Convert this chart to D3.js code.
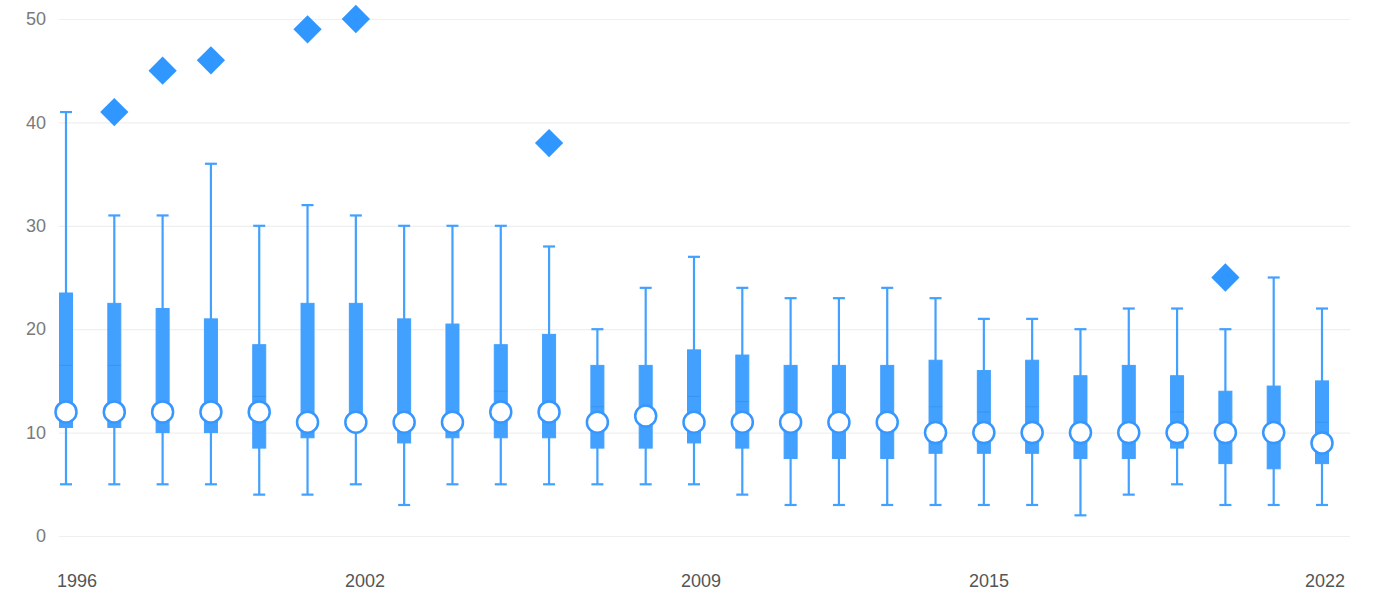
<!DOCTYPE html>
<html>
<head>
<meta charset="utf-8">
<script src="https://cdn.jsdelivr.net/npm/d3@7"></script>
<style>
  body { margin: 0; background: #fff; }
  svg { display: block; font-family: "Liberation Sans", Arial, sans-serif; }
</style>
</head>
<body>
<svg id="chart"></svg>
<script>
// data
const years   = [1996,1997,1998,1999,2000,2001,2002,2003,2004,2005,2006,2007,2008,2009,2010,2011,2012,2013,2014,2015,2016,2017,2018,2019,2020,2021,2022];
const lowW    = [5,5,5,5,4,4,5,3,5,5,5,5,5,5,4,3,3,3,3,3,3,2,4,5,3,3,3];
const q1      = [10.5,10.5,10,10,8.5,9.5,10.5,9,9.5,9.5,9.5,8.5,8.5,9,8.5,7.5,7.5,7.5,8,8,8,7.5,7.5,8.5,7,6.5,7];
const median  = [16.5,16.5,12,12,13.5,11,11,11,11,14,12,12.5,11.5,13.5,13,11,11,11,12.5,12,12.5,10,10,12,10,10,11];
const q3      = [23.5,22.5,22,21,18.5,22.5,22.5,21,20.5,18.5,19.5,16.5,16.5,18,17.5,16.5,16.5,16.5,17,16,17,15.5,16.5,15.5,14,14.5,15];
const highW   = [41,31,31,36,30,32,31,30,30,30,28,20,24,27,24,23,23,24,23,21,21,20,22,22,20,25,22];
const mean    = [12,12,12,12,12,11,11,11,11,12,12,11,11.6,11,11,11,11,11,10,10,10,10,10,10,10,10,9];
const outYears  = [1997,1998,1999,2001,2002,2006,2020];
const outValues = [41,45,46,49,50,38,25];
const yTicks = [0,10,20,30,40,50];
const xLabels = [1996,2002,2009,2015,2022];

const width = 1375, height = 597;
const svg = d3.select('#chart').attr('width', width).attr('height', height);

const x = d3.scalePoint().domain(years).range([66, 1322]);
const y = d3.scaleLinear().domain([0, 50]).range([536, 19]);
// year labels sit on a slightly different time-like scale
const xl = d3.scaleLinear().domain([1996, 2022]).range([77, 1325]);

const blue = '#42a0ff';

// grid
const yAxis = d3.axisLeft(y).tickValues(yTicks).tickSize(-(1350 - 59)).tickPadding(13);
const gy = svg.append('g').attr('transform', 'translate(59,0)').call(yAxis);
gy.select('.domain').remove();
gy.selectAll('.tick line').attr('stroke', '#efefef').attr('stroke-width', 1.2);
gy.selectAll('.tick text').attr('fill', '#7a7a7a').style('font-size', '18px');

svg.append('g').selectAll('text')
  .data(xLabels)
  .join('text')
  .attr('x', d => xl(d))
  .attr('y', 587)
  .attr('text-anchor', 'middle')
  .attr('fill', '#555')
  .style('font-size', '18px')
  .text(d => d);

const rows = years.map((yr, i) => ({ yr, lo: lowW[i], q1: q1[i], med: median[i], q3: q3[i], hi: highW[i], mean: mean[i] }));

const g = svg.append('g');
const bw = 13, cap = 12;

// whiskers
g.selectAll('.whisker')
  .data(rows)
  .join('line')
  .attr('x1', d => x(d.yr)).attr('x2', d => x(d.yr))
  .attr('y1', d => y(d.lo)).attr('y2', d => y(d.hi))
  .attr('stroke', blue).attr('stroke-width', 2.2);

g.selectAll('.capHi')
  .data(rows)
  .join('line')
  .attr('x1', d => x(d.yr) - cap / 2).attr('x2', d => x(d.yr) + cap / 2)
  .attr('y1', d => y(d.hi)).attr('y2', d => y(d.hi))
  .attr('stroke', blue).attr('stroke-width', 2.2);

g.selectAll('.capLo')
  .data(rows)
  .join('line')
  .attr('x1', d => x(d.yr) - cap / 2).attr('x2', d => x(d.yr) + cap / 2)
  .attr('y1', d => y(d.lo)).attr('y2', d => y(d.lo))
  .attr('stroke', blue).attr('stroke-width', 2.2);

// boxes
g.selectAll('.box')
  .data(rows)
  .join('rect')
  .attr('x', d => x(d.yr) - bw / 2)
  .attr('width', bw)
  .attr('y', d => y(d.q3))
  .attr('height', d => y(d.q1) - y(d.q3))
  .attr('fill', blue)
  .attr('stroke', blue).attr('stroke-width', 1);

// median
g.selectAll('.median')
  .data(rows)
  .join('line')
  .attr('x1', d => x(d.yr) - bw / 2).attr('x2', d => x(d.yr) + bw / 2)
  .attr('y1', d => y(d.med)).attr('y2', d => y(d.med))
  .attr('stroke', '#3894ee').attr('stroke-width', 1);

// mean
g.selectAll('.mean')
  .data(rows)
  .join('circle')
  .attr('cx', d => x(d.yr))
  .attr('cy', d => y(d.mean))
  .attr('r', 10.5)
  .attr('fill', '#fff')
  .attr('stroke', '#3797ff').attr('stroke-width', 2.5);

// outliers
const diamond = d3.symbol().type(d3.symbolSquare).size(400);
g.selectAll('.outlier')
  .data(outYears.map((yr, i) => ({ yr, v: outValues[i] })))
  .join('path')
  .attr('d', diamond)
  .attr('transform', d => `translate(${x(d.yr)},${y(d.v)}) rotate(45)`)
  .attr('fill', '#2f97ff');
</script>
</body>
</html>
